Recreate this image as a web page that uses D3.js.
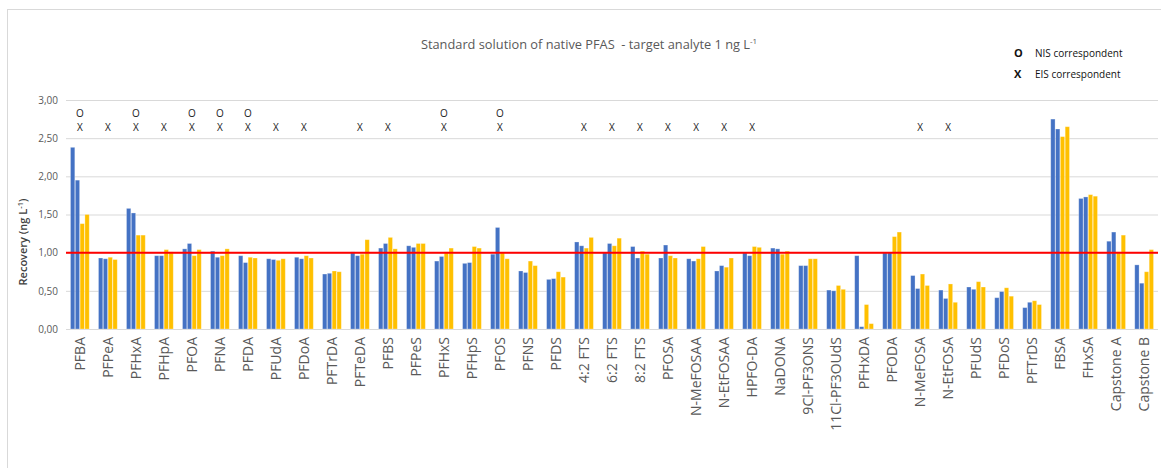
<!DOCTYPE html>
<html>
<head>
<meta charset="utf-8">
<script src="https://cdn.jsdelivr.net/npm/d3@7/dist/d3.min.js"></script>
<style>
  html, body { margin: 0; padding: 0; background: #fff; }
  svg { display: block; font-family: "Open Sans", "Noto Sans", sans-serif; }
</style>
</head>
<body>
<svg id="chart" width="1161" height="468"></svg>
<script>
// Compounds on the x axis
const categories = ["PFBA","PFPeA","PFHxA","PFHpA","PFOA","PFNA","PFDA","PFUdA","PFDoA","PFTrDA",
  "PFTeDA","PFBS","PFPeS","PFHxS","PFHpS","PFOS","PFNS","PFDS","4:2 FTS","6:2 FTS",
  "8:2 FTS","PFOSA","N-MeFOSAA","N-EtFOSAA","HPFO-DA","NaDONA","9Cl-PF3ONS","11Cl-PF3OUdS","PFHxDA","PFODA",
  "N-MeFOSA","N-EtFOSA","PFUdS","PFDoS","PFTrDS","FBSA","FHxSA","Capstone A","Capstone B"];

// Recovery (ng/L) per compound, four replicate series
const blue1 = [2.38,0.93,1.58,0.96,1.05,1.02,0.96,0.92,0.94,0.72,
  1.01,1.06,1.09,0.89,0.86,0.98,0.76,0.65,1.14,1.00,
  1.08,0.93,0.92,0.76,1.00,1.06,0.83,0.51,0.96,1.00,
  0.70,0.51,0.55,0.41,0.28,2.75,1.71,1.15,0.84];
const blue2 = [1.95,0.92,1.52,0.96,1.12,0.94,0.87,0.91,0.92,0.73,
  0.96,1.12,1.07,0.95,0.87,1.33,0.74,0.66,1.09,1.12,
  0.93,1.10,0.89,0.83,0.96,1.05,0.83,0.50,0.03,1.00,
  0.53,0.40,0.52,0.49,0.35,2.62,1.73,1.27,0.60];
const yellow1 = [1.38,0.94,1.23,1.04,0.96,0.96,0.94,0.90,0.96,0.76,
  0.98,1.20,1.12,1.01,1.08,1.00,0.89,0.75,1.06,1.09,
  1.02,0.96,0.92,0.81,1.08,0.98,0.92,0.57,0.32,1.21,
  0.72,0.59,0.62,0.54,0.37,2.52,1.76,1.01,0.75];
const yellow2 = [1.50,0.91,1.23,1.01,1.04,1.05,0.93,0.92,0.93,0.75,
  1.17,1.05,1.12,1.06,1.06,0.92,0.83,0.68,1.20,1.19,
  0.98,0.93,1.08,0.93,1.07,1.02,0.92,0.52,0.07,1.27,
  0.57,0.35,0.55,0.43,0.32,2.65,1.74,1.23,1.04];

// Internal-standard correspondence marks per compound
const nisMarks = ["PFBA","PFHxA","PFOA","PFNA","PFDA","PFHxS","PFOS"];
const eisMarks = ["PFBA","PFPeA","PFHxA","PFHpA","PFOA","PFNA","PFDA","PFUdA","PFDoA","PFTeDA",
  "PFBS","PFHxS","PFOS","4:2 FTS","6:2 FTS","8:2 FTS","PFOSA","N-MeFOSAA","N-EtFOSAA","HPFO-DA",
  "N-MeFOSA","N-EtFOSA"];

const yTicks = [0, 0.5, 1, 1.5, 2, 2.5, 3];
const targetValue = 1;

const seriesKeys = ["b1","b2","y1","y2"];
const seriesColors = {b1:"#4472c4", b2:"#4472c4", y1:"#ffc000", y2:"#ffc000"};

const rows = categories.map((c, i) => ({
  name: c, b1: blue1[i], b2: blue2[i], y1: yellow1[i], y2: yellow2[i]
}));

const svg = d3.select("#chart");

// chart area frame
svg.append("rect")
  .attr("x", 7.5).attr("y", 9.5)
  .attr("width", 1170).attr("height", 480)
  .attr("fill", "none").attr("stroke", "#d9d9d9").attr("stroke-width", 1);

const x0 = d3.scaleBand().domain(categories).range([66, 1158]).paddingInner(0.33).paddingOuter(0.16);
const x1 = d3.scaleBand().domain(seriesKeys).range([0, x0.bandwidth()]).paddingInner(0.1);
const y = d3.scaleLinear().domain([0, 3]).range([329, 100]);

const fmt = d => d3.format(".2f")(d).replace(".", ",");

// gridlines + tick labels
const yAxis = d3.axisLeft(y).tickValues(yTicks).tickFormat(fmt).tickSize(-(1158 - 66)).tickPadding(8);
const gy = svg.append("g").attr("transform", "translate(66,0)").call(yAxis);
gy.select(".domain").remove();
gy.selectAll(".tick line").attr("stroke", "#d9d9d9").attr("stroke-width", 1);
gy.selectAll(".tick text").attr("fill", "#595959").attr("font-size", 10)
  .attr("font-family", "'Open Sans', sans-serif");

// bars
const groups = svg.append("g").selectAll("g").data(rows).join("g")
  .attr("transform", d => `translate(${x0(d.name)},0)`);
groups.selectAll("rect")
  .data(d => seriesKeys.map(k => ({key: k, value: d[k]})))
  .join("rect")
  .attr("x", d => x1(d.key))
  .attr("width", x1.bandwidth())
  .attr("y", d => y(d.value))
  .attr("height", d => y(0) - y(d.value))
  .attr("fill", d => seriesColors[d.key])
  .attr("stroke", "#ffffff").attr("stroke-opacity", 0.35).attr("stroke-width", 0.8);

// target line
svg.append("line")
  .attr("x1", 66).attr("x2", 1158)
  .attr("y1", y(targetValue)).attr("y2", y(targetValue))
  .attr("stroke", "#ff0000").attr("stroke-width", 2);

// category labels
const xAxis = d3.axisBottom(x0).tickSize(0).tickPadding(0);
const gx = svg.append("g").attr("transform", "translate(0,329)").call(xAxis);
gx.select(".domain").remove();
gx.selectAll(".tick text")
  .attr("transform", "rotate(-90)")
  .attr("text-anchor", "end")
  .attr("x", -8).attr("y", 0).attr("dy", "0.35em")
  .attr("fill", "#595959").attr("font-size", 14)
  .attr("font-family", "'Open Sans', sans-serif");

// O / X correspondence markers
const markG = svg.append("g").attr("font-size", 10).attr("fill", "#222").attr("text-anchor", "middle");
markG.selectAll("text.nis").data(nisMarks).join("text").attr("class", "nis")
  .attr("x", d => x0(d) + x0.bandwidth() / 2).attr("y", 117).text("O");
markG.selectAll("text.eis").data(eisMarks).join("text").attr("class", "eis")
  .attr("x", d => x0(d) + x0.bandwidth() / 2).attr("y", 131).text("X");

// title
const title = svg.append("text").attr("x", 589).attr("y", 49).attr("text-anchor", "middle")
  .attr("fill", "#595959").attr("font-size", 12.8);
title.append("tspan").text("Standard solution of native PFAS\u00a0 - target analyte 1 ng L");
title.append("tspan").attr("font-size", 8).attr("dy", -5).text("-1");

// y-axis title
const yt = svg.append("text").attr("transform", "translate(27,242) rotate(-90)")
  .attr("text-anchor", "middle").attr("fill", "#404040").attr("font-size", 11).attr("font-weight", 600);
yt.append("tspan").text("Recovery (ng L");
yt.append("tspan").attr("font-size", 7.5).attr("dy", -4).text("-1");
yt.append("tspan").attr("dy", 4).text(")");

// legend
const legend = svg.append("g").attr("font-size", 10).attr("fill", "#111");
legend.append("text").attr("x", 1014).attr("y", 57).attr("font-weight", 700).attr("font-size", 11).text("O");
legend.append("text").attr("x", 1035).attr("y", 57).text("NIS correspondent");
legend.append("text").attr("x", 1014).attr("y", 78).attr("font-weight", 700).attr("font-size", 11).text("X");
legend.append("text").attr("x", 1035).attr("y", 78).text("EIS correspondent");
</script>
</body>
</html>
